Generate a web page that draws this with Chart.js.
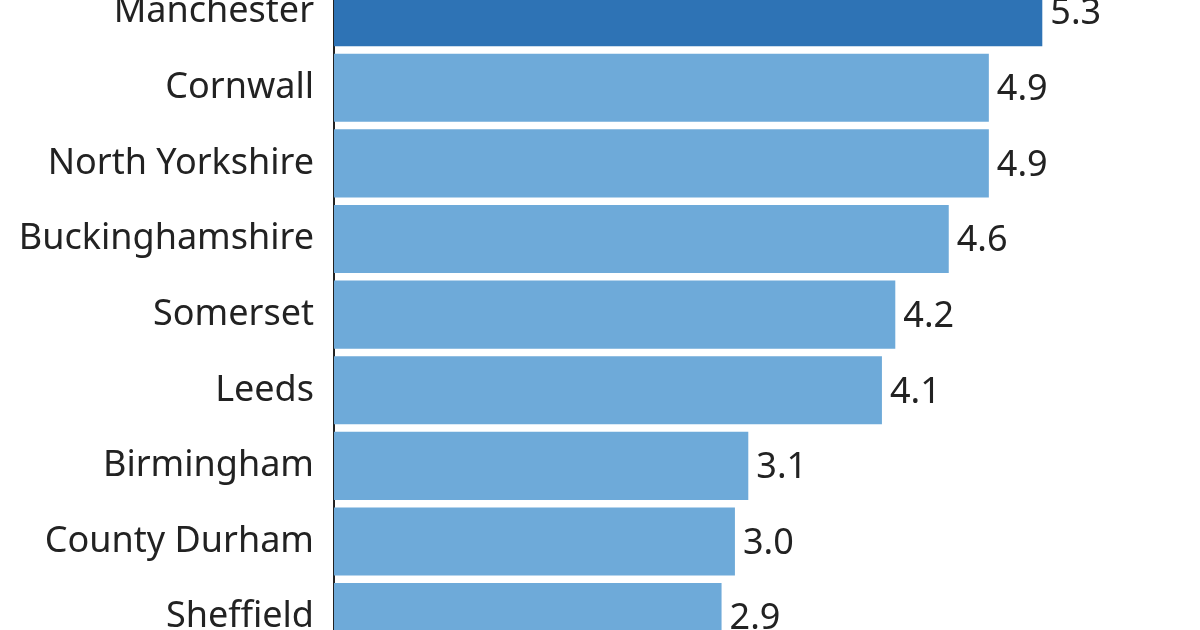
<!DOCTYPE html>
<html>
<head>
<meta charset="utf-8">
<script src="https://cdn.jsdelivr.net/npm/chart.js@4"></script>
<style>
  html, body { margin: 0; padding: 0; background: #fff; }
</style>
</head>
<body>
<canvas id="c" width="1200" height="630"></canvas>
<script>
const areas = ["Manchester", "Cornwall", "North Yorkshire", "Buckinghamshire", "Somerset",
  "Leeds", "Birmingham", "County Durham", "Sheffield"];
const values = [5.3, 4.9, 4.9, 4.6, 4.2, 4.1, 3.1, 3.0, 2.9];
const highlight = "Manchester";

// value labels at bar ends
const valueLabels = {
  id: "valueLabels",
  afterDatasetsDraw(chart) {
    const ctx = chart.ctx;
    const meta = chart.getDatasetMeta(0);
    ctx.save();
    ctx.font = "36px 'Noto Sans', sans-serif";
    ctx.fillStyle = "#222";
    ctx.textBaseline = "middle";
    meta.data.forEach((bar, i) => {
      ctx.fillText(values[i].toFixed(1), bar.x + 8, bar.y + 2);
    });
    ctx.restore();
  },
};

new Chart(document.getElementById("c"), {
  type: "bar",
  data: {
    datasets: [{
      data: values.map((v, i) => ({ x: v, y: i })),
      backgroundColor: areas.map((a) => (a === highlight ? "#2e73b5" : "#6eaad9")),
      categoryPercentage: 1,
      barPercentage: 0.9,
    }],
  },
  options: {
    indexAxis: "y",
    responsive: false,
    animation: false,
    devicePixelRatio: 1,
    layout: { padding: 0 },
    plugins: { legend: { display: false }, tooltip: { enabled: false } },
    scales: {
      x: { type: "linear", min: 0, max: 6.48, display: false, grid: { display: false } },
      y: {
        // linear index axis so the top and bottom bars can run off the picture
        type: "linear",
        reverse: true,
        offset: false,
        min: -0.16,
        max: 8.17,
        grid: { display: false, drawTicks: false },
        border: { color: "#222", width: 2 },
        afterFit(scale) {
          scale.width = 334;
          scale.paddingTop = 0;
          scale.paddingBottom = 0;
        },
        afterBuildTicks(scale) {
          scale.ticks = areas.map((a, i) => ({ value: i }));
        },
        ticks: {
          padding: 20,
          color: "#222",
          font: { family: "'Noto Sans', sans-serif", size: 36 },
          callback: (v) => areas[v] ?? "",
        },
      },
    },
  },
  plugins: [valueLabels],
});
</script>
</body>
</html>
